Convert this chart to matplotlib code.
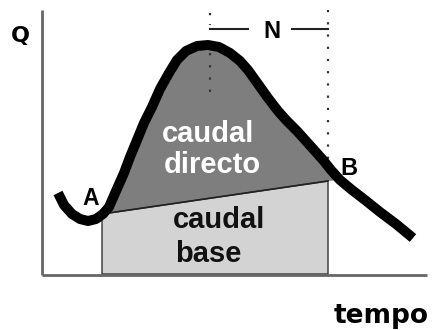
import matplotlib
matplotlib.use("Agg")
import matplotlib.pyplot as plt

H = 330  # figure height in px; Q = H - pixel row

# hydrograph (time, discharge) in pixel-like units
t_curve = [58, 64, 72, 80, 88, 96, 103, 109, 116, 124, 130, 137, 144, 152, 160, 169,
           177, 186, 197, 208, 219, 230, 240, 248, 258, 268, 278, 287, 297, 306, 315,
           323, 331, 340, 352, 365, 380, 396, 413]
y_curve = [193, 205, 214, 219, 221, 219, 214, 207, 191, 173, 157, 140, 123, 107, 89, 73,
           60, 51, 46, 45, 47, 53, 61, 70, 84, 98, 111, 121, 131, 141, 151,
           160, 170, 180, 190, 200, 212, 224, 238]
q_curve = [H - v for v in y_curve]

# base flow separation line A -> B
t_base = [102, 328]
q_base = [H - 214, H - 181]
q_floor = H - 274

# axes extents
t_axis = [42, 427]
q_axis = [H - 275, H - 10]

t_peak = 210
t_end = 328

fig = plt.figure(figsize=(4.33, 3.30), dpi=100)
ax = fig.add_axes([0, 0, 1, 1])
ax.set_xlim(0, 433)
ax.set_ylim(0, H)
ax.axis("off")

# direct runoff region (between curve and base line)
idx = [i for i, t in enumerate(t_curve) if 103 <= t <= 340]
poly_t = [t_curve[i] for i in idx] + [t_base[1], t_base[0]]
poly_q = [q_curve[i] for i in idx] + [q_base[1], q_base[0]]
ax.fill(poly_t, poly_q, color="#7e7e7e", lw=0, zorder=1)

# base flow region
ax.fill([t_base[0], t_base[0], t_base[1], t_base[1]],
        [q_floor, q_base[0], q_base[1], q_floor],
        facecolor="#d3d3d3", edgecolor="#333333", lw=1.0, zorder=2)
ax.plot(t_base, q_base, color="#222222", lw=1.2, zorder=3)

# axes lines
ax.plot([t_axis[0], t_axis[0]], [q_axis[0], q_axis[1]], color="#666666", lw=2.0,
        solid_capstyle="butt", zorder=2)
ax.plot([t_axis[0], t_axis[1]], [q_axis[0], q_axis[0]], color="#666666", lw=2.0,
        solid_capstyle="butt", zorder=2)

# dotted guides
ax.plot([t_peak, t_peak], [H - 13, H - 25], color="#333333", lw=1.6,
        linestyle=(0, (1, 4)), zorder=2)
ax.plot([t_peak, t_peak], [H - 53, H - 97], color="#333333", lw=1.6,
        linestyle=(0, (1, 4.5)), zorder=2)
ax.plot([t_end, t_end], [H - 10, H - 181], color="#333333", lw=1.6,
        linestyle=(0, (1, 4.5)), zorder=2)

# N bracket
ax.plot([t_peak, 248], [H - 29, H - 29], color="#222222", lw=1.5, zorder=2)
ax.plot([292, t_end], [H - 29, H - 29], color="#222222", lw=1.5, zorder=2)

# hydrograph curve
ax.plot(t_curve, q_curve, color="black", lw=7.2, solid_joinstyle="round",
        solid_capstyle="butt", zorder=4)

lib = "Liberation Sans"
ax.text(20, H - 42, "Q", fontsize=16, fontweight="bold", family="DejaVu Sans",
        ha="center", va="baseline")
ax.text(381, H - 323, "tempo", fontsize=19, fontweight="bold", family="DejaVu Sans",
        ha="center", va="baseline")
ax.text(272, H - 38, "N", fontsize=17, fontweight="bold", family=lib,
        ha="center", va="baseline")
ax.text(91, H - 205, "A", fontsize=16.5, fontweight="bold", family=lib,
        ha="center", va="baseline")
ax.text(349, H - 175, "B", fontsize=17, fontweight="bold", family=lib,
        ha="center", va="baseline")

ax.text(162, H - 142, "caudal", fontsize=21, fontweight="bold", family=lib,
        color="white", ha="left", va="baseline", zorder=5)
ax.text(164, H - 173, "directo", fontsize=21, fontweight="bold", family=lib,
        color="white", ha="left", va="baseline", zorder=5)
ax.text(173, H - 228, "caudal", fontsize=21, fontweight="bold", family=lib,
        color="#111111", ha="left", va="baseline", zorder=5)
ax.text(175, H - 262, "base", fontsize=21, fontweight="bold", family=lib,
        color="#111111", ha="left", va="baseline", zorder=5)

fig.savefig("out.png", dpi=100)
